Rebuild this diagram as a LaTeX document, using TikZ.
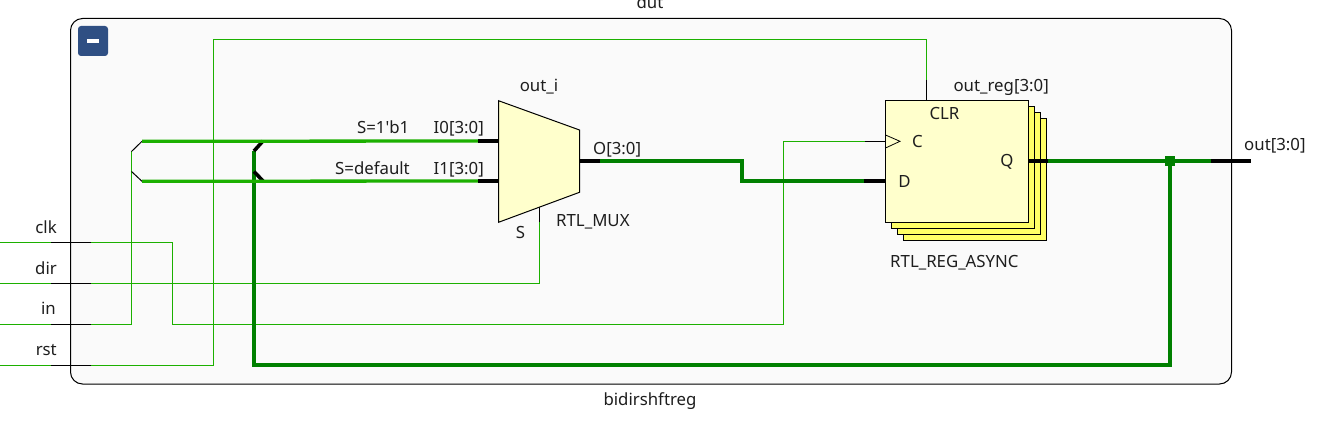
\documentclass[tikz,border=0pt]{standalone}
\usepackage{fontspec}
\newfontfamily\lblfont{Noto Sans}
\definecolor{thing}{HTML}{1CB000}
\definecolor{dkg}{HTML}{008000}
\definecolor{navy}{HTML}{2F4F83}
\definecolor{pale}{HTML}{FFFFCC}
\definecolor{ylw}{HTML}{FFFF66}
\definecolor{panel}{HTML}{FAFAFA}
\definecolor{txt}{HTML}{1E1E1E}
\tikzset{
  lbl/.style={font=\lblfont\fontsize{16.8}{18}\selectfont, text=txt, inner sep=0pt, anchor=base},
  lblr/.style={lbl, anchor=base east},
  lbll/.style={lbl, anchor=base west},
  thinw/.style={draw=thing, line width=1pt},
  thinb/.style={draw=black, line width=1pt},
  busl/.style={draw=thing, line width=3.3pt},
  busd/.style={draw=dkg, line width=3.6pt},
  busb/.style={draw=black, line width=3.6pt},
  cellb/.style={draw=black, line width=1pt},
}
\begin{document}
\begin{tikzpicture}[x=1pt,y=-1pt]
\useasboundingbox (0,0) rectangle (1317,425);
\fill[white] (0,0) rectangle (1317,425);
% panel
\node[draw=black, line width=1pt, fill=panel, rounded corners=12pt, minimum width=1161pt, minimum height=365.5pt, inner sep=0pt, anchor=north west, outer sep=0pt] (panel) at (70.5,18.5) {};
\node[fill=navy, rounded corners=3pt, minimum size=30pt, inner sep=0pt] (btn) at (93,41) {};
\node[fill=white, minimum width=12pt, minimum height=4pt, inner sep=0pt] (minus) at (93,41) {};
% coordinates
\coordinate (clkA) at (0,242); \coordinate (clkB) at (51,242); \coordinate (clkC) at (91,242); \coordinate (clkD) at (172.5,242); \coordinate (clkE) at (172.5,324); \coordinate (clkF) at (783,324); \coordinate (clkG) at (783,141.3); \coordinate (clkH) at (865,141.3); \coordinate (clkI) at (885.5,141.3);
\coordinate (dirA) at (0,283); \coordinate (dirB) at (51,283); \coordinate (dirC) at (91,283); \coordinate (dirD) at (539.5,283); \coordinate (dirE) at (539.5,222); \coordinate (dirF) at (539.5,207);
\coordinate (inA) at (0,324.3); \coordinate (inB) at (51,324.3); \coordinate (inC) at (91,324.3); \coordinate (inD) at (131.5,324.3); \coordinate (inE) at (131.5,151.5); \coordinate (inF) at (142,141.3); \coordinate (inG) at (131.5,171.5); \coordinate (inH) at (142,181.3);
\coordinate (rstA) at (0,365.3); \coordinate (rstB) at (51,365.3); \coordinate (rstC) at (91,365.3); \coordinate (rstD) at (213.5,365.3); \coordinate (rstE) at (213.5,39.5); \coordinate (rstF) at (926.5,39.5); \coordinate (rstG) at (926.5,80); \coordinate (rstH) at (926.5,100.5);
\coordinate (i0a) at (478,141); \coordinate (i0b) at (498.5,141);
\coordinate (i1a) at (478,181); \coordinate (i1b) at (498.5,181);
\coordinate (oa) at (579.5,160.7); \coordinate (ob) at (600,160.7); \coordinate (oc) at (742,160.7); \coordinate (od) at (742,181); \coordinate (oe) at (864,181); \coordinate (of) at (885.5,181);
\coordinate (qa) at (1028.5,160.7); \coordinate (qb) at (1048,160.7); \coordinate (qc) at (1211,160.7); \coordinate (qd) at (1251,160.7);
\coordinate (fbA) at (1170,160.7); \coordinate (fbB) at (1170,365); \coordinate (fbC) at (254,365); \coordinate (fbD) at (254,151); \coordinate (fbE) at (263,141); \coordinate (fbF) at (254,171.5); \coordinate (fbG) at (263,181);
% thin wires
\draw[thinw] (clkA)--(clkB); \draw[thinb] (clkB)--(clkC); \draw[thinw] (clkC)--(clkD)--(clkE)--(clkF)--(clkG)--(clkH); \draw[thinb] (clkH)--(clkI);
\draw[thinw] (dirA)--(dirB); \draw[thinb] (dirB)--(dirC); \draw[thinw] (dirC)--(dirD)--(dirE); \draw[thinb] (dirE)--(dirF);
\draw[thinw] (inA)--(inB); \draw[thinb] (inB)--(inC); \draw[thinw] (inC)--(inD)--(inE); \draw[thinb] (inE)--(inF); \draw[thinw] (inD)--(inG); \draw[thinb] (inG)--(inH);
\draw[thinw] (rstA)--(rstB); \draw[thinb] (rstB)--(rstC); \draw[thinw] (rstC)--(rstD)--(rstE)--(rstF)--(rstG); \draw[thinb] (rstG)--(rstH);
% feedback and buses
\draw[busd, line join=miter] (fbA)--(fbB)--(fbC)--(fbD);
\draw[busb] (fbD)--(fbE); \draw[busb] (fbF)--(fbG);
\draw[busl] (inF)--(i0a); \draw[busb] (i0a)--(i0b);
\draw[busl] (inH)--(i1a); \draw[busb] (i1a)--(i1b);
% mux
\coordinate (m1) at (498.5,100.7); \coordinate (m2) at (579.5,130); \coordinate (m3) at (579.5,192.3); \coordinate (m4) at (498.5,222.3);
\draw[cellb, fill=pale] (m1)--(m2)--(m3)--(m4)--cycle;
\draw[busb] (oa)--(ob); \draw[busd, line join=miter] (ob)--(oc)--(od)--(oe); \draw[busb] (oe)--(of);
% register stack
\node[cellb, fill=ylw, minimum width=143pt, minimum height=121.5pt, inner sep=0pt, outer sep=0pt, anchor=north west] (reg3) at (903.5,118.5) {};
\node[cellb, fill=ylw, minimum width=143pt, minimum height=121.5pt, inner sep=0pt, outer sep=0pt, anchor=north west] (reg2) at (897.5,112.5) {};
\node[cellb, fill=ylw, minimum width=143pt, minimum height=121.5pt, inner sep=0pt, outer sep=0pt, anchor=north west] (reg1) at (891.5,106.5) {};
\node[cellb, fill=pale, minimum width=143pt, minimum height=121.5pt, inner sep=0pt, outer sep=0pt, anchor=north west] (reg0) at (885.5,100.5) {};
\coordinate (t1) at (885.5,135); \coordinate (t2) at (900,141.3); \coordinate (t3) at (885.5,148);
\draw[draw=black, line width=.8pt] (t1)--(t2)--(t3);
% output
\draw[busb] (qa)--(qb); \draw[busd] (qb)--(qc); \draw[busb] (qc)--(qd);
\node[fill=dkg, minimum size=10pt, inner sep=0pt] (junction) at (fbA) {};
% labels
\node[lbl] (dut) at (650,9) {dut};
\node[lbl] (bid) at (650,405) {bidirshftreg};
\node[lblr] (clk) at (57,233) {clk};
\node[lblr] (dir) at (57,274) {dir};
\node[lblr] (in) at (56,314) {in};
\node[lblr] (rst) at (57,355) {rst};
\node[lbl] (outi) at (539,92) {out\_i};
\node[lblr] (s1) at (409.5,134) {S=1'b1};
\node[lblr] (sd) at (410,174) {S=default};
\node[lblr] (I0) at (484,134) {I0[3:0]};
\node[lblr] (I1) at (484,174) {I1[3:0]};
\node[lbll] (O) at (593,154) {O[3:0]};
\node[lbl] (Sp) at (520.5,238) {S};
\node[lbll] (mux) at (556,226) {RTL\_MUX};
\node[lblr] (regn) at (1049,92) {out\_reg[3:0]};
\node[lbl] (clr) at (944.5,120) {CLR};
\node[lbl] (C) at (917.5,147) {C};
\node[lbl] (D) at (904.5,187) {D};
\node[lbl] (Q) at (1007,167) {Q};
\node[lbll] (regt) at (890,267) {RTL\_REG\_ASYNC};
\node[lbll] (outp) at (1244,150) {out[3:0]};
\end{tikzpicture}
\end{document}
